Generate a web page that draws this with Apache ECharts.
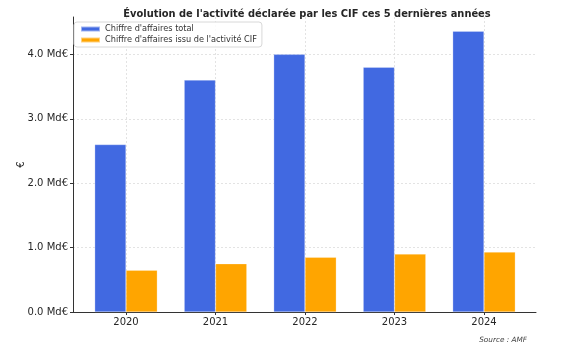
<!DOCTYPE html>
<html><head><meta charset="utf-8">
<script src="https://cdn.jsdelivr.net/npm/echarts@6/dist/echarts.min.js"></script>
<style>html,body{margin:0;padding:0;background:#fff}#c{width:568px;height:350px}</style>
</head><body><div id="c"></div>
<script>
const years = ['2020','2021','2022','2023','2024'];
const totalCA = [2.6, 3.6, 4.0, 3.8, 4.36];
const cifCA = [0.65, 0.75, 0.85, 0.9, 0.93];
const yTicks = [0, 1, 2, 3, 4];
const seriesNames = ["Chiffre d'affaires total", "Chiffre d'affaires issu de l'activité CIF"];

const FONT = 'DejaVu Sans';
const YMAX = 4.58;
const chart = echarts.init(document.getElementById('c'), null, {renderer: 'canvas'});
chart.setOption({
  animation: false,
  backgroundColor: '#ffffff',
  textStyle: {fontFamily: FONT},
  title: {
    text: "Évolution de l'activité déclarée par les CIF ces 5 dernières années",
    left: 302, top: 4, textAlign: 'center',
    textStyle: {fontFamily: FONT, fontSize: 9.9, fontWeight: 'bold', color: '#262626'}
  },
  graphic: [{
    type: 'text', right: 41, top: 337,
    style: {text: 'Source : AMF', font: 'italic 7.3px DejaVu Sans', fill: '#444'}
  }],
  legend: {
    left: 74, top: 22, orient: 'vertical', itemGap: 3,
    itemWidth: 19, itemHeight: 5,
    backgroundColor: 'rgba(255,255,255,0.85)', borderColor: '#d8d8d8', borderWidth: 1, borderRadius: 3,
    padding: [3, 5, 3, 6],
    textStyle: {fontFamily: FONT, fontSize: 8.2, color: '#333'},
    data: seriesNames.map(n => ({name: n, icon: 'rect'}))
  },
  grid: [
    {left: 73, right: 32, top: 17, bottom: 38},
    {left: 126, right: 84, top: 17, bottom: 38}
  ],
  xAxis: [
    {type: 'value', gridIndex: 0, min: 0, max: 1,
     axisLine: {show: true, onZero: false, lineStyle: {color: '#333', width: 1}},
     axisTick: {show: false}, axisLabel: {show: false}, splitLine: {show: false}},
    {type: 'category', gridIndex: 1, data: years, boundaryGap: false,
     axisLine: {show: false},
     axisTick: {show: true, inside: false, length: 3, lineStyle: {color: '#333'}},
     axisLabel: {fontFamily: FONT, fontSize: 10, color: '#262626', margin: 5},
     splitLine: {show: true, lineStyle: {color: '#dcdcdc', type: [2, 2], width: 0.8}}}
  ],
  yAxis: [
    {type: 'value', gridIndex: 0, min: 0, max: YMAX, interval: 1,
     name: '€', nameLocation: 'middle', nameGap: 47, nameRotate: 90, nameMoveOverlap: false,
     nameTextStyle: {fontFamily: FONT, fontSize: 10, color: '#262626'},
     axisLine: {show: true, lineStyle: {color: '#333', width: 1}},
     axisTick: {show: true, length: 3, customValues: yTicks, lineStyle: {color: '#333'}},
     axisLabel: {fontFamily: FONT, fontSize: 10, color: '#262626', margin: 5, customValues: yTicks,
       formatter: v => v.toFixed(1) + ' Md€'},
     splitLine: {show: true, lineStyle: {color: '#dcdcdc', type: [2, 2], width: 0.8}}},
    {type: 'value', gridIndex: 1, min: 0, max: YMAX, show: false, splitLine: {show: false}}
  ],
  series: [
    {name: seriesNames[0], type: 'bar', xAxisIndex: 1, yAxisIndex: 1, data: totalCA,
     barWidth: '35%', barGap: '0%', clip: false,
     itemStyle: {color: '#4169E1', borderColor: 'rgba(255,255,255,0.5)', borderWidth: 0.5}},
    {name: seriesNames[1], type: 'bar', xAxisIndex: 1, yAxisIndex: 1, data: cifCA,
     barWidth: '35%', barGap: '0%', clip: false,
     itemStyle: {color: '#FFA500', borderColor: 'rgba(255,255,255,0.5)', borderWidth: 0.5}}
  ]
});
</script></body></html>
